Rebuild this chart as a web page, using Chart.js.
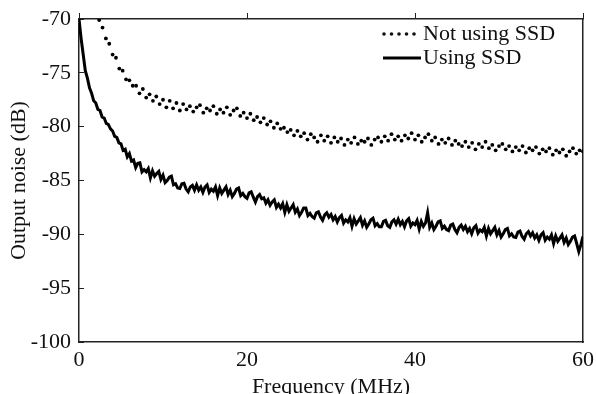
<!DOCTYPE html>
<html>
<head>
<meta charset="utf-8">
<script src="https://cdn.jsdelivr.net/npm/chart.js@4.4.1/dist/chart.umd.min.js"></script>
<style>
  html, body { margin: 0; padding: 0; background: #fff; }
  #wrap { width: 596px; height: 394px; overflow: hidden; }
</style>
</head>
<body>
<div id="wrap"><canvas id="noiseChart" width="596" height="404"></canvas></div>
<script>
// frequency axis (MHz) and output noise (dB)
const xTicks = [0, 20, 40, 60];
const yTicks = [-100, -95, -90, -85, -80, -75, -70];

// "Using SSD": one sample every 0.25 MHz from 0 to 60 MHz
const ssdStep = 0.25;
const usingSSD = [
  -70.0, -71.8, -73.3, -74.8,  -75.5, -76.4, -76.9, -77.6,  -77.8, -78.4, -78.5, -79.1,
  -79.2, -79.7, -79.8, -80.2,  -80.4, -80.9, -81.0, -81.5,  -81.6, -82.2, -82.1, -82.8,
  -82.5, -83.2, -83.1, -83.8,  -83.4, -83.35, -84.2, -84.0,  -84.2, -83.9, -84.75, -84.1,
  -84.6, -84.35, -84.15, -84.9,  -84.5, -85.2, -85.0, -84.7,  -84.6, -85.4, -85.3, -85.7,
  -85.75, -85.3, -85.25, -85.8,  -86.05, -85.6, -85.45, -85.9,  -85.4, -85.9, -85.6, -86.1,
  -85.6, -85.4, -86.1, -85.8,  -86.0, -85.6, -86.4, -85.7,  -86.2, -85.9, -85.6, -86.3,
  -85.9, -86.5, -86.2, -85.8,  -85.7, -86.4, -86.2, -86.5,  -86.65, -86.15, -86.05, -86.55,
  -87.0, -86.5, -86.3, -86.7,  -86.6, -87.1, -86.8, -87.3,  -87.0, -86.8, -87.5, -87.2,
  -87.55, -87.15, -87.95, -87.25,  -87.85, -87.55, -87.25, -87.95,  -87.65, -88.25, -87.95, -87.55,
  -87.55, -88.25, -88.05, -88.35,  -88.5, -88.0, -87.9, -88.4,  -88.7, -88.2, -88.0, -88.4,
  -88.15, -88.65, -88.35, -88.85,  -88.45, -88.25, -88.95, -88.65,  -88.85, -88.45, -89.25, -88.55,
  -89.05, -88.75, -88.45, -89.15,  -88.75, -89.35, -89.05, -88.65,  -88.5, -89.2, -89.0, -89.3,
  -89.3, -88.8, -88.7, -89.2,  -89.35, -88.85, -88.65, -89.05,  -88.6, -89.1, -88.8, -89.3,
  -88.75, -88.55, -89.25, -88.95,  -89.1, -88.7, -89.5, -88.8,  -89.25, -88.95, -88.0, -89.35,
  -88.95, -89.55, -89.25, -88.85,  -88.75, -89.45, -89.25, -89.55,  -89.65, -89.15, -89.05, -89.55,
  -89.85, -89.35, -89.15, -89.55,  -89.25, -89.75, -89.45, -89.95,  -89.4, -89.2, -89.9, -89.6,
  -89.75, -89.35, -90.15, -89.45,  -89.95, -89.65, -89.35, -90.05,  -89.65, -90.25, -89.95, -89.55,
  -89.45, -90.15, -89.95, -90.25,  -90.3, -89.8, -89.7, -90.2,  -90.45, -89.95, -89.75, -90.15,
  -89.85, -90.35, -90.05, -90.55,  -90.05, -89.85, -90.55, -90.25,  -90.45, -90.05, -90.85, -90.15,
  -90.65, -90.35, -90.05, -90.75,  -90.35, -90.95, -90.65, -90.25,  -90.15, -90.85, -91.6, -90.95,
  -90.2
];

// "Not using SSD": one sample every 0.4 MHz from 2.4 to 60 MHz
const noSsdStart = 2.4;
const noSsdStep = 0.4;
const notUsingSSD = [
  -70.1, -70.8, -71.8, -72.3, -73.3, -73.6, -74.6, -74.8, -75.6, -75.7,
  -76.2, -76.2, -76.9, -76.5, -77.3, -77.0, -77.6, -77.2, -77.9, -77.5,
  -78.2, -77.6, -78.3, -77.8, -78.5, -77.9, -78.4, -78.1, -78.6, -78.2,
  -78.0, -78.7, -78.3, -78.5, -78.1, -78.8, -78.4, -78.7, -78.2, -78.9,
  -78.5, -78.3, -79.0, -78.7, -79.2, -78.8, -79.4, -79.1, -79.6, -79.2,
  -79.8, -79.5, -80.1, -79.7, -80.2, -80.1, -80.5, -80.3, -80.8, -80.4,
  -80.9, -80.6, -81.2, -80.7, -81.0, -81.4, -80.8, -81.3, -80.9, -81.5,
  -81.0, -81.4, -81.1, -81.7, -81.2, -81.5, -81.0, -81.6, -81.3, -81.4,
  -81.1, -81.7, -81.2, -81.0, -81.4, -80.9, -81.3, -80.7, -81.2, -80.9,
  -81.3, -80.8, -81.1, -80.6, -81.2, -80.8, -81.4, -81.0, -80.7, -81.3,
  -81.0, -81.6, -81.2, -81.5, -81.1, -81.7, -81.3, -81.6, -81.8, -81.4,
  -81.9, -81.5, -82.1, -81.6, -81.9, -81.4, -82.0, -81.7, -82.2, -81.8,
  -81.6, -82.1, -81.8, -82.3, -81.9, -82.2, -81.8, -82.4, -82.0, -82.2,
  -81.9, -82.5, -82.1, -82.3, -82.0, -82.6, -82.2, -82.4, -82.1, -82.7,
  -82.3, -82.0, -82.5, -82.2, -82.3
];

const serif = "'Liberation Serif', 'Times New Roman', serif";
const ink = '#111';

// fixed scale sizes, and no extra room for labels hanging past the plot edges
function fixSize(w, h) {
  return s => {
    if (w !== null) s.width = w;
    if (h !== null) s.height = h;
    s.paddingTop = 0; s.paddingBottom = 0; s.paddingLeft = 0; s.paddingRight = 0;
  };
}

// legend drawn inside the plot, top right
const innerLegend = {
  id: 'innerLegend',
  afterDatasetsDraw(chart) {
    const ctx = chart.ctx;
    const rows = [
      { ds: chart.data.datasets[0], y: 34 },
      { ds: chart.data.datasets[1], y: 58 }
    ];
    ctx.save();
    ctx.font = '22px ' + serif;
    ctx.fillStyle = ink;
    ctx.textBaseline = 'middle';
    rows.forEach(r => {
      if (r.ds.showLine === false) {
        for (let k = 0; k < 5; k++) {
          ctx.beginPath();
          ctx.arc(384 + k * 7.5, r.y, 1.8, 0, Math.PI * 2);
          ctx.fill();
        }
      } else {
        ctx.strokeStyle = '#000';
        ctx.lineWidth = 3;
        ctx.beginPath();
        ctx.moveTo(383, r.y);
        ctx.lineTo(421, r.y);
        ctx.stroke();
      }
      ctx.fillText(r.ds.label, 423, r.y);
    });
    ctx.restore();
  }
};

new Chart('noiseChart', {
  type: 'line',
  data: {
    datasets: [
      {
        label: 'Not using SSD',
        data: notUsingSSD.map((y, i) => ({ x: noSsdStart + i * noSsdStep, y })),
        showLine: false,
        pointRadius: 1.9,
        pointBorderWidth: 0,
        pointBackgroundColor: '#000',
        borderColor: '#000'
      },
      {
        label: 'Using SSD',
        data: usingSSD.map((y, i) => ({ x: i * ssdStep, y })),
        borderColor: '#000',
        borderWidth: 3,
        pointRadius: 0,
        tension: 0
      }
    ]
  },
  options: {
    responsive: false,
    animation: false,
    layout: { padding: { left: 0, right: 13, top: 13, bottom: 0 } },
    plugins: { legend: { display: false }, tooltip: { enabled: false } },
    scales: {
      x: {
        type: 'linear', position: 'bottom', min: 0, max: 60,
        afterBuildTicks: s => { s.ticks = xTicks.map(v => ({ value: v })); },
        afterFit: fixSize(null, 62),
        grid: { drawOnChartArea: false, drawTicks: false },
        border: { color: '#222', width: 1.5 },
        ticks: { color: ink, font: { family: serif, size: 22 }, padding: 5, maxRotation: 0 },
        title: { display: true, text: 'Frequency (MHz)', color: ink,
                 font: { family: serif, size: 22, lineHeight: 1 }, padding: { top: 0, bottom: 6 } }
      },
      xTop: {
        type: 'linear', position: 'top', min: 0, max: 60,
        afterBuildTicks: s => { s.ticks = xTicks.map(v => ({ value: v })); },
        afterFit: fixSize(null, 6),
        grid: { drawOnChartArea: false, drawTicks: true, tickLength: 6, color: '#222', lineWidth: 1 },
        border: { color: '#222', width: 1.5 },
        ticks: { display: false }
      },
      y: {
        type: 'linear', position: 'left', min: -100, max: -70,
        afterBuildTicks: s => { s.ticks = yTicks.map(v => ({ value: v })); },
        afterFit: fixSize(79, null),
        grid: { drawOnChartArea: false, drawTicks: true, tickLength: -5, color: '#222', lineWidth: 1 },
        border: { color: '#222', width: 1.5 },
        ticks: { color: ink, font: { family: serif, size: 22 }, padding: 13 },
        title: { display: true, text: 'Output noise (dB)', color: ink,
                 font: { family: serif, size: 22, lineHeight: 1 }, padding: { top: 8, bottom: 0 } }
      },
      yRight: {
        type: 'linear', position: 'right', min: -100, max: -70,
        afterFit: fixSize(0, null),
        grid: { drawOnChartArea: false, drawTicks: false },
        border: { color: '#222', width: 1.5 },
        ticks: { display: false }
      }
    }
  },
  plugins: [innerLegend]
});
</script>
</body>
</html>
